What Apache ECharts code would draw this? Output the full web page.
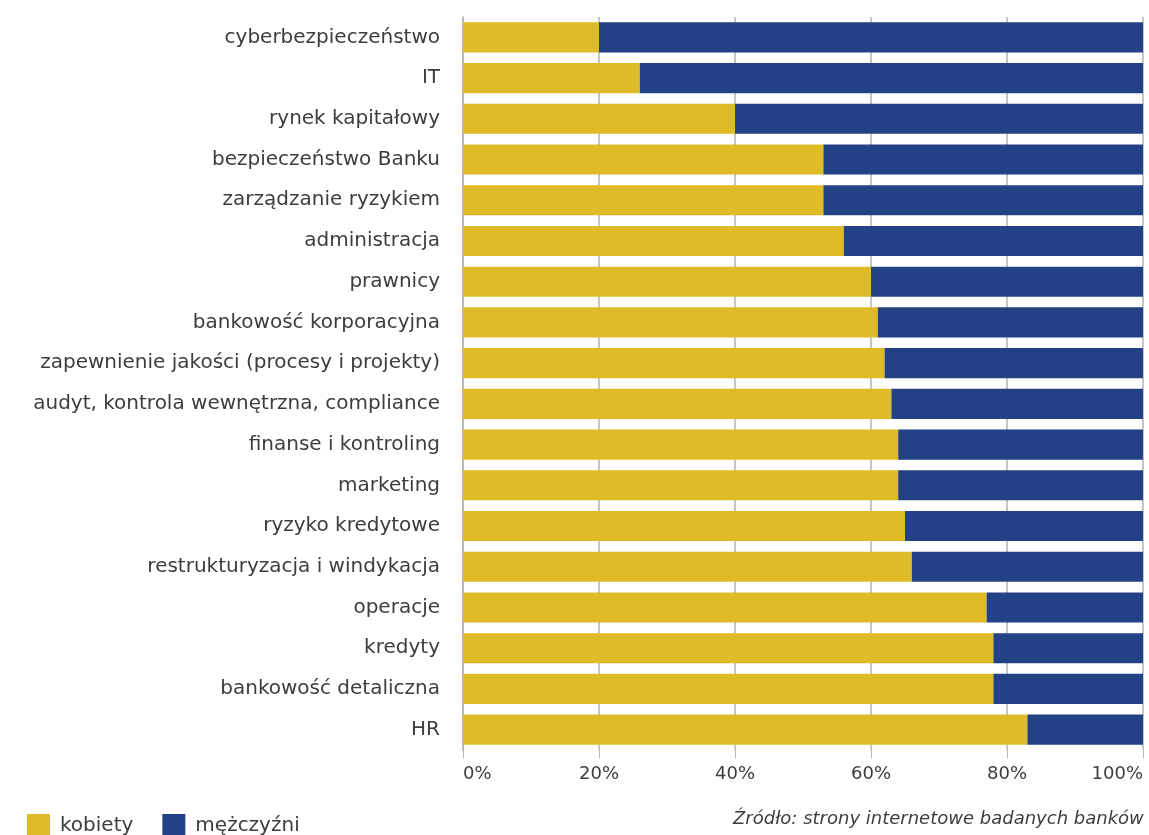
<!DOCTYPE html>
<html>
<head>
<meta charset="utf-8">
<script src="https://cdn.jsdelivr.net/npm/echarts@6/dist/echarts.min.js"></script>
<style>
  html, body { margin: 0; padding: 0; background: #fff; overflow: hidden; }
  #chart { width: 1149px; height: 835px; }
</style>
</head>
<body>
<div id="chart"></div>
<script>
// Departments, top to bottom
const categories = [
  'cyberbezpieczeństwo', 'IT', 'rynek kapitałowy', 'bezpieczeństwo Banku',
  'zarządzanie ryzykiem', 'administracja', 'prawnicy', 'bankowość korporacyjna',
  'zapewnienie jakości (procesy i projekty)', 'audyt, kontrola wewnętrzna, compliance',
  'finanse i kontroling', 'marketing', 'ryzyko kredytowe',
  'restrukturyzacja i windykacja', 'operacje', 'kredyty', 'bankowość detaliczna', 'HR'
];
// Share of women (%)
const kobiety = [20, 26, 40, 53, 53, 56, 60, 61, 62, 63, 64, 64, 65, 66, 77, 78, 78, 83];
// Share of men (%)
const mezczyzni = kobiety.map(v => 100 - v);
const xTicks = ['0%', '20%', '40%', '60%', '80%', '100%'];
const seriesNames = ['kobiety', 'mężczyźni'];
const sourceText = 'Źródło: strony internetowe badanych banków';

const FONT = '"DejaVu Sans", sans-serif';
const TEXT = '#3d3d3d';
const chart = echarts.init(document.getElementById('chart'), null, { renderer: 'canvas' });

chart.setOption({
  animation: false,
  color: ['#DFBB28', '#234185'],
  grid: {
    left: 463, width: 680, top: 17, height: 733,
    containLabel: false, outerBoundsMode: 'none'
  },
  legend: {
    left: 22, top: 809,
    itemWidth: 23, itemHeight: 23, itemGap: 29,
    icon: 'rect',
    textStyle: { fontFamily: FONT, fontSize: 20, color: TEXT, padding: [0, 0, 0, 5] },
    data: seriesNames
  },
  xAxis: {
    type: 'value', min: 0, max: 100, interval: 20,
    axisLine: { show: false },
    axisTick: { show: true, length: 8, lineStyle: { color: '#b3b3b3' } },
    splitLine: { show: true, lineStyle: { color: '#b3b3b3', width: 1.5 } },
    axisLabel: {
      fontFamily: FONT, fontSize: 18, color: TEXT, margin: 15,
      alignMinLabel: 'left', alignMaxLabel: 'right',
      formatter: v => xTicks[Math.round(v / 20)]
    }
  },
  yAxis: {
    type: 'category', inverse: true, data: categories,
    axisLine: { show: true, lineStyle: { color: '#b3b3b3', width: 1.5 } },
    axisTick: { show: false },
    axisLabel: { fontFamily: FONT, fontSize: 20, color: TEXT, margin: 23 }
  },
  graphic: [{
    type: 'text', left: 733, top: 810,
    style: { text: sourceText, font: 'italic 18px ' + FONT, fill: TEXT }
  }],
  series: [
    {
      name: seriesNames[0], type: 'bar', stack: 'total', data: kobiety,
      barCategoryGap: '26%'
    },
    {
      name: seriesNames[1], type: 'bar', stack: 'total', data: mezczyzni,
      barCategoryGap: '26%'
    }
  ]
});
</script>
</body>
</html>
